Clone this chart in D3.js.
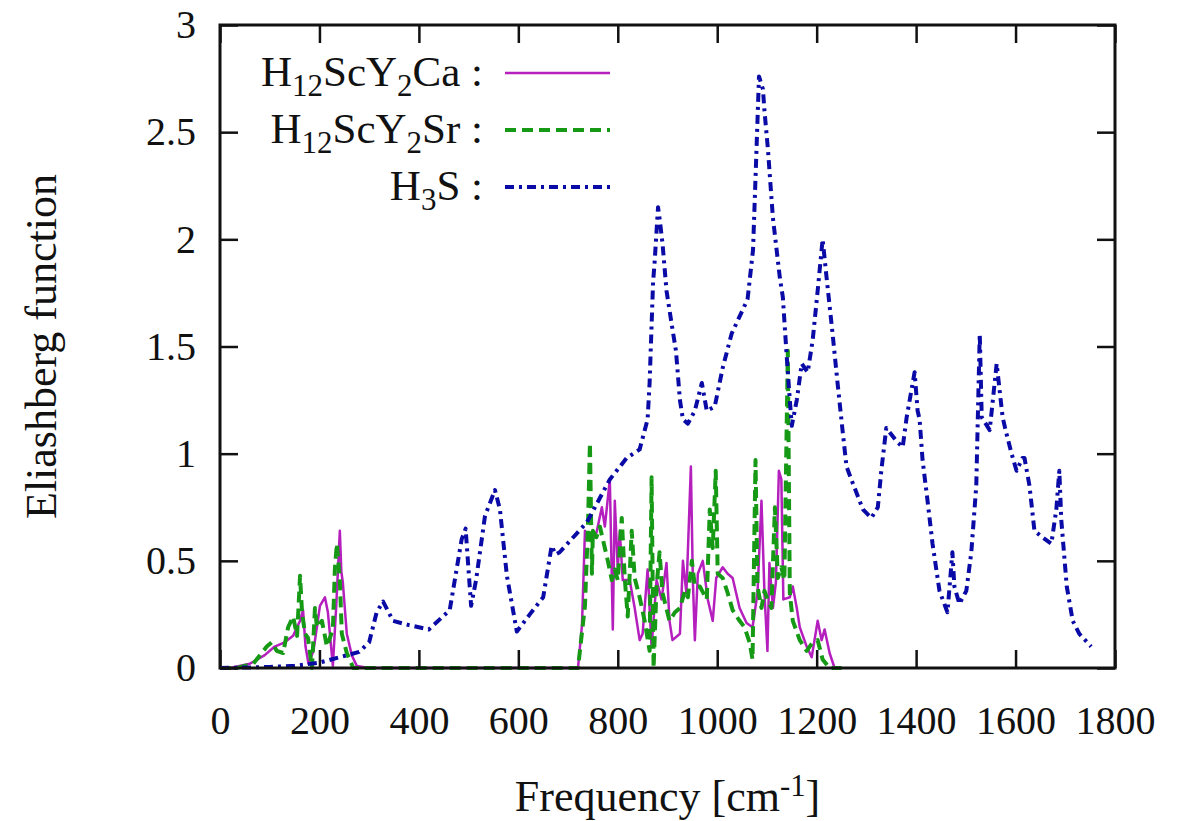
<!DOCTYPE html>
<html>
<head>
<meta charset="utf-8">
<script src="https://cdn.jsdelivr.net/npm/d3@7"></script>
<style>
  body { margin: 0; background: #fff; }
</style>
</head>
<body>
<svg id="svg" width="1191" height="821"></svg>
<script>
// tick values
var xTicks = [0, 200, 400, 600, 800, 1000, 1200, 1400, 1600, 1800];
var yTicks = [0, 0.5, 1, 1.5, 2, 2.5, 3];

// H12ScY2Ca (solid)
var caFreq = [0, 20, 60, 90, 110, 130, 147, 161, 167, 172, 178, 188, 201, 211, 217, 227, 234, 241, 244, 247, 255, 265, 275, 300,
  720, 728, 734, 745, 757, 768, 774, 784, 790, 794, 800, 804, 810, 824, 834, 844, 850, 860, 868, 878, 888, 898, 904, 910, 925,
  931, 938, 947, 951, 955, 961, 971, 981, 991, 998, 1011, 1021, 1031, 1045, 1059, 1071, 1081, 1089, 1095, 1101, 1105, 1112,
  1118, 1124, 1129, 1133, 1146, 1152, 1160, 1166, 1180, 1190, 1202, 1210, 1216, 1226, 1236, 1250];
var caVal = [0, 0, 0.02, 0.06, 0.1, 0.12, 0.15, 0.22, 0.27, 0.1, 0.02, 0.08, 0.29, 0.33, 0.26, 0.01, 0.3, 0.64, 0.45, 0.4, 0.16, 0.06, 0.01, 0,
  0, 0.2, 0.64, 0.6, 0.63, 0.75, 0.66, 0.88, 0.18, 0.78, 0.46, 0.64, 0.41, 0.41, 0.28, 0.13, 0.16, 0.46, 0.1, 0.41, 0.32, 0.49, 0.22, 0.13, 0.16,
  0.5, 0.35, 0.94, 0.41, 0.13, 0.44, 0.5, 0.32, 0.22, 0.42, 0.47, 0.44, 0.42, 0.28, 0.21, 0.19, 0.35, 0.78, 0.35, 0.08, 0.49, 0.28,
  0.4, 0.92, 0.88, 0.32, 0.33, 0.38, 0.28, 0.19, 0.1, 0.05, 0.22, 0.13, 0.18, 0.07, 0, 0];

// H12ScY2Sr (dashed)
var srFreq = [0, 33, 67, 94, 104, 114, 127, 137, 147, 155, 161, 165, 171, 177, 185, 191, 195, 205, 215, 227, 231, 235, 241, 245, 255, 268, 300,
  720, 734, 740, 744, 748, 750, 757, 764, 774, 780, 788, 794, 800, 808, 814, 820, 828, 834, 844, 854, 864, 868, 872, 878, 884, 890,
  904, 915, 925, 935, 941, 949, 955, 965, 979, 985, 991, 997, 1001, 1011, 1021, 1031, 1045, 1055, 1065, 1071, 1077, 1081, 1089,
  1095, 1101, 1109, 1116, 1122, 1129, 1135, 1142, 1146, 1152, 1166, 1180, 1192, 1202, 1212, 1226, 1250];
var srVal = [0, 0, 0.02, 0.1, 0.12, 0.08, 0.07, 0.19, 0.24, 0.15, 0.43, 0.26, 0.16, 0.14, 0, 0.28, 0.19, 0.22, 0.1, 0.18, 0.46, 0.58, 0.41, 0.16, 0.07, 0, 0,
  0, 0.29, 0.66, 1.05, 0.44, 0.64, 0.61, 0.66, 0.56, 0.5, 0.41, 0.46, 0.41, 0.7, 0.42, 0.24, 0.64, 0.42, 0.33, 0.22, 0.08, 0.89, 0, 0.38, 0.54, 0.35,
  0.22, 0.26, 0.28, 0.36, 0.33, 0.5, 0.38, 0.38, 0.32, 0.74, 0.56, 0.92, 0.44, 0.42, 0.35, 0.27, 0.22, 0.19, 0.12, 0.04, 0.97, 0.38, 0.28,
  0.36, 0.32, 0.28, 0.75, 0.42, 0.47, 0.41, 1.48, 0.35, 0.22, 0.13, 0.08, 0.12, 0.13, 0.04, 0, 0];

// H3S (dash-dot)
var h3sFreq = [0, 50, 100, 150, 200, 240, 280, 300, 315, 328, 348, 380, 420, 462, 486, 494, 505, 515, 533, 553, 563, 577, 597, 623, 650,
  667, 675, 683, 738, 784, 818, 844, 860, 864, 871, 874, 881, 885, 890, 898, 908, 917, 925, 931, 941, 955, 969, 979, 995, 1011, 1029,
  1051, 1061, 1072, 1079, 1084, 1092, 1095, 1102, 1112, 1126, 1132, 1139, 1146, 1150, 1160, 1170, 1182, 1192, 1202, 1212, 1220, 1232,
  1242, 1252, 1260, 1273, 1293, 1310, 1323, 1330, 1340, 1360, 1373, 1381, 1397, 1403, 1407, 1413, 1423, 1433, 1447, 1463, 1473, 1477,
  1487, 1501, 1511, 1521, 1528, 1532, 1548, 1562, 1574, 1581, 1592, 1602, 1614, 1618, 1628, 1638, 1654, 1672, 1682, 1688, 1692, 1703,
  1715, 1728, 1752];
var h3sVal = [0, 0.002, 0.005, 0.01, 0.025, 0.05, 0.075, 0.12, 0.26, 0.31, 0.22, 0.2, 0.18, 0.27, 0.6, 0.65, 0.29, 0.41, 0.71, 0.83, 0.74, 0.43, 0.17, 0.25, 0.33,
  0.57, 0.53, 0.54, 0.68, 0.88, 0.98, 1.02, 1.16, 1.33, 1.8, 1.89, 2.15, 2.08, 1.98, 1.76, 1.61, 1.48, 1.25, 1.16, 1.14, 1.2, 1.33, 1.2, 1.22, 1.4, 1.56,
  1.67, 1.72, 1.95, 2.42, 2.76, 2.7, 2.6, 2.42, 2.1, 1.82, 1.73, 1.48, 1.25, 1.13, 1.25, 1.42, 1.38, 1.53, 1.76, 2.0, 1.82, 1.56,
  1.33, 1.11, 0.94, 0.86, 0.74, 0.7, 0.75, 0.92, 1.12, 1.06, 1.03, 1.17, 1.38, 1.2, 1.16, 0.97, 0.78, 0.58, 0.36, 0.26, 0.54, 0.38,
  0.3, 0.36, 0.54, 0.85, 1.56, 1.17, 1.11, 1.42, 1.17, 1.1, 1.0, 0.92, 0.98, 0.98, 0.85, 0.64, 0.61, 0.58, 0.74, 0.92, 0.69, 0.38,
  0.22, 0.16, 0.1];

var width = 1191;
var height = 821;
var margin = {top: 25, right: 76, bottom: 153, left: 220};
var serif = "Liberation Serif, DejaVu Serif, serif";

var svg = d3.select("#svg");

var x = d3.scaleLinear()
  .domain([0, 1800])
  .range([margin.left, width - margin.right]);

var y = d3.scaleLinear()
  .domain([0, 3])
  .range([height - margin.bottom, margin.top]);

var series = [
  {name: "Ca", freq: caFreq, val: caVal, color: "#b41fbd", width: 2.5, dash: null},
  {name: "Sr", freq: srFreq, val: srVal, color: "#169a16", width: 4, dash: "11,6"},
  {name: "H3S", freq: h3sFreq, val: h3sVal, color: "#0a0aa6", width: 4, dash: "9,5,3,5"}
];

var line = d3.line()
  .x(d => x(d[0]))
  .y(d => y(d[1]));

// curves
svg.append("g")
  .selectAll("path")
  .data(series)
  .join("path")
    .attr("d", s => line(d3.zip(s.freq, s.val)))
    .attr("fill", "none")
    .attr("stroke", s => s.color)
    .attr("stroke-width", s => s.width)
    .attr("stroke-dasharray", s => s.dash)
    .attr("stroke-linejoin", "round");

// ticks inward on all four sides, labels bottom/left
var tickLen = 18;
var fontSize = 40;
var fmt = d => String(d);

svg.append("g")
  .attr("transform", "translate(0," + y(0) + ")")
  .call(d3.axisBottom(x).tickValues(xTicks).tickFormat(fmt).tickSize(-tickLen).tickPadding(tickLen + 20))
  .call(g => g.select(".domain").remove());

svg.append("g")
  .attr("transform", "translate(0," + y(3) + ")")
  .call(d3.axisTop(x).tickValues(xTicks).tickSize(-tickLen).tickFormat(""))
  .call(g => g.select(".domain").remove());

svg.append("g")
  .attr("transform", "translate(" + x(0) + ",0)")
  .call(d3.axisLeft(y).tickValues(yTicks).tickFormat(fmt).tickSize(-tickLen).tickPadding(tickLen + 6))
  .call(g => g.select(".domain").remove());

svg.append("g")
  .attr("transform", "translate(" + x(1800) + ",0)")
  .call(d3.axisRight(y).tickValues(yTicks).tickSize(-tickLen).tickFormat(""))
  .call(g => g.select(".domain").remove());

svg.selectAll(".tick line")
  .attr("stroke", "#111")
  .attr("stroke-width", 2.5);

svg.selectAll(".tick text")
  .attr("font-family", serif)
  .attr("font-size", fontSize)
  .attr("fill", "#111");

// frame
svg.append("rect")
  .attr("x", x(0))
  .attr("y", y(3))
  .attr("width", x(1800) - x(0))
  .attr("height", y(0) - y(3))
  .attr("fill", "none")
  .attr("stroke", "#111")
  .attr("stroke-width", 3);

// legend
var legendRows = [
  [["H", 0], ["12", 1], ["ScY", 0], ["2", 1], ["Ca :", 0]],
  [["H", 0], ["12", 1], ["ScY", 0], ["2", 1], ["Sr :", 0]],
  [["H", 0], ["3", 1], ["S :", 0]]
];

var legend = svg.append("g");
legendRows.forEach(function(parts, i) {
  var cy = 73 + i * 57;
  var t = legend.append("text")
    .attr("x", 483)
    .attr("y", cy + 13)
    .attr("text-anchor", "end")
    .attr("font-family", serif)
    .attr("fill", "#111")
    .attr("font-size", fontSize + 3);
  parts.forEach(function(p, j) {
    var prev = j > 0 ? parts[j - 1][1] : 0;
    var ts = t.append("tspan").text(p[0])
      .attr("dy", p[1] && !prev ? 10 : (!p[1] && prev ? -10 : 0));
    if (p[1]) ts.attr("font-size", (fontSize + 3) * 0.72);
  });
  legend.append("line")
    .attr("x1", 505)
    .attr("x2", 610)
    .attr("y1", cy)
    .attr("y2", cy)
    .attr("stroke", series[i].color)
    .attr("stroke-width", series[i].width)
    .attr("stroke-dasharray", series[i].dash);
});

// axis titles
var xt = svg.append("text")
  .attr("x", (x(0) + x(1800)) / 2)
  .attr("y", 811)
  .attr("text-anchor", "middle")
  .attr("font-family", serif)
  .attr("fill", "#111")
  .attr("font-size", fontSize + 4);
xt.append("tspan").text("Frequency [cm");
xt.append("tspan").text("-1").attr("font-size", (fontSize + 4) * 0.7).attr("dy", -15);
xt.append("tspan").text("]").attr("dy", 15);

svg.append("text")
  .attr("transform", "translate(56," + ((y(0) + y(3)) / 2) + ") rotate(-90)")
  .attr("text-anchor", "middle")
  .attr("font-family", serif)
  .attr("fill", "#111")
  .attr("font-size", fontSize + 4)
  .text("Eliashberg function");
</script>
</body>
</html>
